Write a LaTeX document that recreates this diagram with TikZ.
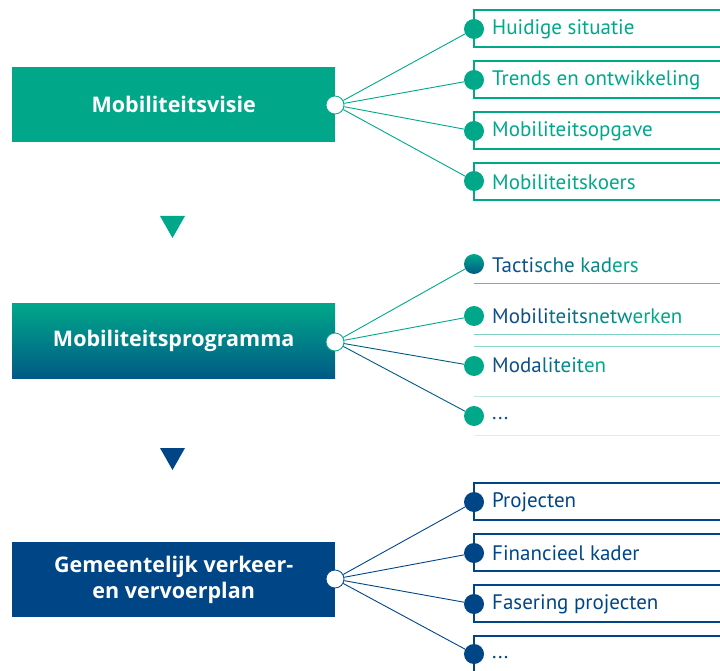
\documentclass[tikz,border=0pt]{standalone}
\usepackage{fontspec}
\setmainfont{PT Sans}
\newfontfamily\boxfont{Open Sans}
\definecolor{mteal}{HTML}{00A88A}
\definecolor{mblue}{HTML}{004687}
\definecolor{mgblue}{HTML}{005A86}
\definecolor{gone}{HTML}{0E4F88}
\colorlet{gtwo}{gone!65!mteal}
\colorlet{gthree}{gone!35!mteal}
\definecolor{lineA}{HTML}{7BA7CB}
\definecolor{lineB}{HTML}{80D0C2}
\definecolor{lineC}{HTML}{8AD6C8}
\definecolor{lineD}{HTML}{BCE6DD}
\definecolor{lineE}{HTML}{D8F1EB}
\begin{document}
\begin{tikzpicture}[x=1pt,y=-1pt,
  mainbox/.style={minimum width=323pt, minimum height=75pt, inner sep=0pt, text=white,
    font=\boxfont\fontsize{21.5}{26}\selectfont\bfseries, align=center, anchor=north west},
  hub/.style={circle, draw=#1, fill=white, minimum size=18pt, inner sep=0pt, line width=0.8pt},
  itemdot/.style={circle, fill=#1, minimum size=20pt, inner sep=0pt},
  itemtext/.style={anchor=west, font=\fontsize{21}{24}\selectfont, inner sep=0pt, text=#1},
  conn/.style={draw=#1, line width=0.9pt},
  itembox/.style={draw=#1, line width=1.1pt},
  sepline/.style={draw=#1, line width=1pt}
]
\path[use as bounding box] (0,0) rectangle (720,671);

% ---------- group 1 ----------
\node[mainbox, fill=mteal] (vis) at (12,67) {Mobiliteitsvisie};
\foreach \t/\b in {10/47, 61/98, 112/149, 163/200}
  \draw[itembox=mteal] (720,\t) -| (474,\b) -- (720,\b);
\node[hub=mteal] (h1) at (335,105) {};
\node[itemdot=mteal] (d11) at (474,29) {};
\node[itemdot=mteal] (d12) at (474,80) {};
\node[itemdot=mteal] (d13) at (474,131) {};
\node[itemdot=mteal] (d14) at (474,181) {};
\foreach \d in {d11,d12,d13,d14} \draw[conn=mteal] (h1) -- (\d);
\node[itemtext=mteal] (t11) at (492,29) {Huidige situatie};
\node[itemtext=mteal] (t12) at (492,80) {Trends en ontwikkeling};
\node[itemtext=mteal] (t13) at (492,131) {Mobiliteitsopgave};
\node[itemtext=mteal] (t14) at (492,182) {Mobiliteitskoers};

\fill[mteal] (160,216) -- (185,216) -- (172.5,238) -- cycle;

% ---------- group 2 ----------
\node[mainbox, top color=mteal, middle color=mteal, bottom color=mgblue] (prog) at (12,303) {Mobiliteitsprogramma};
\draw[sepline=lineA] (474,283) -- (720,283);
\draw[sepline=lineB] (474,334) -- (720,334);
\draw[sepline=lineC] (474,346) -- (720,346);
\draw[sepline=lineD] (474,396) -- (720,396);
\draw[sepline=lineE] (474,435) -- (720,435);
\node[hub=mteal] (h2) at (335,342) {};
\node[circle, minimum size=20pt, inner sep=0pt, top color=mteal, middle color=mteal, bottom color=mgblue] (d21) at (474,264) {};
\node[itemdot=mteal] (d22) at (474,316) {};
\node[itemdot=mteal] (d23) at (474,366) {};
\node[itemdot=mteal] (d24) at (474,416) {};
\draw[conn=mteal] (h2) -- (d21);
\draw[conn=mteal] (h2) -- (d22);
\draw[conn=mgblue] (h2) -- (d23);
\draw[conn=mgblue] (h2) -- (d24);
\node[itemtext=gone] (t21) at (492,265) {\textcolor{gone}{Tacti}\textcolor{gtwo}{sche }\textcolor{gthree}{kad}\textcolor{mteal}{ers}};
\node[itemtext=gone] (t22) at (492,316) {\textcolor{gone}{Mobili}\textcolor{gtwo}{teits}\textcolor{gthree}{netw}\textcolor{mteal}{erken}};
\node[itemtext=gone] (t23) at (492,365) {\textcolor{gone}{Moda}\textcolor{gtwo}{lit}\textcolor{gthree}{eit}\textcolor{mteal}{en}};
\node[itemtext=gone] (t24) at (492,419) {...};

\fill[mblue] (160,448) -- (185,448) -- (172.5,470) -- cycle;

% ---------- group 3 ----------
\node[mainbox, fill=mblue] (plan) at (12,542) {Gemeentelijk verkeer-\\en vervoerplan};
\foreach \t/\b in {483/520, 534/571, 585/622}
  \draw[itembox=mblue] (720,\t) -| (474,\b) -- (720,\b);
\draw[itembox=mblue] (720,636) -| (474,671);
\node[hub=mblue] (h3) at (335,579) {};
\node[itemdot=mblue] (d31) at (474,502) {};
\node[itemdot=mblue] (d32) at (474,553) {};
\node[itemdot=mblue] (d33) at (474,604) {};
\node[itemdot=mblue] (d34) at (474,654) {};
\foreach \d in {d31,d32,d33,d34} \draw[conn=mblue] (h3) -- (\d);
\node[itemtext=mblue] (t31) at (492,502) {Projecten};
\node[itemtext=mblue] (t32) at (492,553) {Financieel kader};
\node[itemtext=mblue] (t33) at (492,604) {Fasering projecten};
\node[itemtext=mblue] (t34) at (492,658) {...};
\end{tikzpicture}
\end{document}
